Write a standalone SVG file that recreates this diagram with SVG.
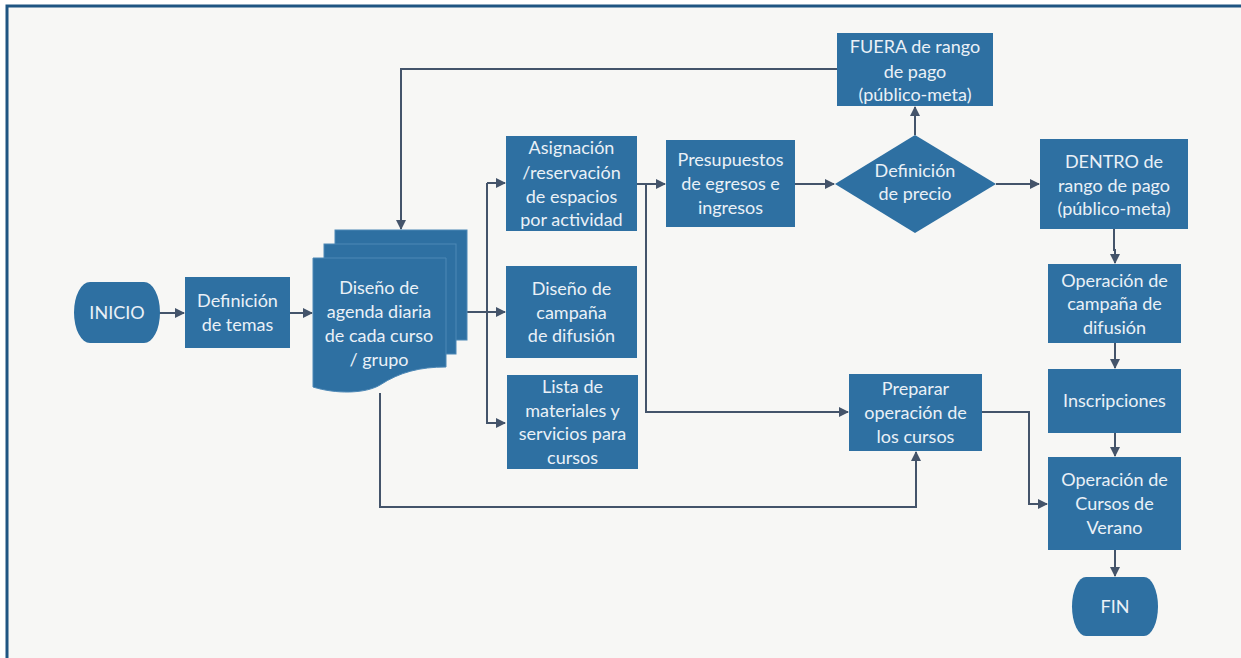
<svg xmlns="http://www.w3.org/2000/svg" width="1241" height="658" viewBox="0 0 1241 658">
  <style>
    .box { fill: #2e70a2; }
    .lbl { font-family: Lato, "Liberation Sans", sans-serif; font-size: 18px; fill: #eaf0f7; text-anchor: middle; }
    .wire { fill: none; stroke: #44546a; stroke-width: 2; }
    .arr { marker-end: url(#head); }
  </style>
  <defs>
    <marker id="head" viewBox="0 0 10 10" refX="9" refY="5" markerWidth="5" markerHeight="5" orient="auto" markerUnits="strokeWidth">
      <path d="M0,0 L10,5 L0,10 z" fill="#44546a"/>
    </marker>
  </defs>

  <!-- page -->
  <rect x="0" y="0" width="1241" height="658" fill="#ffffff"/>
  <rect x="7" y="6" width="1234" height="652" fill="#f7f7f5"/>
  <path d="M7,658 V6 H1241" fill="none" stroke="#1f5582" stroke-width="3"/>

  <!-- connectors -->
  <g id="connectors">
    <path class="wire arr" d="M159,313 H184"/>
    <path class="wire arr" d="M290,313 H312"/>
    <path class="wire" d="M466,312 H487"/>
    <path class="wire arr" d="M487,312 H505"/>
    <path class="wire arr" d="M487,183 V423 H505"/>
    <path class="wire arr" d="M487,183 H505"/>
    <path class="wire arr" d="M637,184 H665"/>
    <path class="wire arr" d="M646,184 V412 H848"/>
    <path class="wire arr" d="M795,184 H834"/>
    <path class="wire arr" d="M915,135 V107"/>
    <path class="wire arr" d="M837,69 H401 V229"/>
    <path class="wire arr" d="M996,184 H1039"/>
    <path class="wire arr" d="M1114,229 V250 H1115 V263"/>
    <path class="wire arr" d="M1115,343 V368"/>
    <path class="wire arr" d="M1115,433 V456"/>
    <path class="wire arr" d="M1115,550 V576"/>
    <path class="wire arr" d="M982,412 H1029 V504 H1047"/>
    <path class="wire arr" d="M380,393 V507 H916 V452"/>
  </g>

  <g id="inicio">
    <path class="box" d="M90,282 H144 A16,30.5 0 0 1 144,343 H90 A16,30.5 0 0 1 90,282 z"/>
    <text class="lbl" x="117" y="319">INICIO</text>
  </g>

  <g id="definicion-temas">
    <rect class="box" x="185" y="277" width="105" height="71"/>
    <text class="lbl" x="237.5" y="307">Definición</text>
    <text class="lbl" x="237.5" y="331">de temas</text>
  </g>

  <g id="diseno-agenda">
    <rect class="box" x="335" y="230" width="132" height="110" stroke="#4d88b6" stroke-width="1"/>
    <rect class="box" x="324" y="244" width="132" height="110" stroke="#4d88b6" stroke-width="1"/>
    <path class="box" d="M313,258 H446 V367 C420,367 400,372 380,385 C365,394 335,394 313,387 z" stroke="#4d88b6" stroke-width="1"/>
    <text class="lbl" x="379" y="294">Diseño de</text>
    <text class="lbl" x="379" y="318">agenda diaria</text>
    <text class="lbl" x="379" y="342">de cada curso</text>
    <text class="lbl" x="379" y="366">/ grupo</text>
  </g>

  <g id="asignacion">
    <rect class="box" x="506" y="136" width="131" height="95"/>
    <text class="lbl" x="571.5" y="154">Asignación</text>
    <text class="lbl" x="571.5" y="179">/reservación</text>
    <text class="lbl" x="571.5" y="203">de espacios</text>
    <text class="lbl" x="571.5" y="226">por actividad</text>
  </g>

  <g id="diseno-campana">
    <rect class="box" x="506" y="266" width="131" height="92"/>
    <text class="lbl" x="571.5" y="295">Diseño de</text>
    <text class="lbl" x="571.5" y="319">campaña</text>
    <text class="lbl" x="571.5" y="342">de difusión</text>
  </g>

  <g id="lista-materiales">
    <rect class="box" x="507" y="375" width="131" height="94"/>
    <text class="lbl" x="572.5" y="393">Lista de</text>
    <text class="lbl" x="572.5" y="417">materiales y</text>
    <text class="lbl" x="572.5" y="440">servicios para</text>
    <text class="lbl" x="572.5" y="464">cursos</text>
  </g>

  <g id="presupuestos">
    <rect class="box" x="666" y="140" width="129" height="87"/>
    <text class="lbl" x="730.5" y="166">Presupuestos</text>
    <text class="lbl" x="730.5" y="190">de egresos e</text>
    <text class="lbl" x="730.5" y="214">ingresos</text>
  </g>

  <g id="definicion-precio">
    <path class="box" d="M915,135 L996,184 L915,233 L835,184 z"/>
    <text class="lbl" x="915" y="177">Definición</text>
    <text class="lbl" x="915" y="200">de precio</text>
  </g>

  <g id="fuera-rango">
    <rect class="box" x="837" y="33" width="156" height="73"/>
    <text class="lbl" x="915" y="53">FUERA de rango</text>
    <text class="lbl" x="915" y="78">de pago</text>
    <text class="lbl" x="915" y="101">(público-meta)</text>
  </g>

  <g id="dentro-rango">
    <rect class="box" x="1040" y="139" width="148" height="90"/>
    <text class="lbl" x="1114" y="168">DENTRO de</text>
    <text class="lbl" x="1114" y="192">rango de pago</text>
    <text class="lbl" x="1114" y="215">(público-meta)</text>
  </g>

  <g id="operacion-campana">
    <rect class="box" x="1048" y="264" width="133" height="79"/>
    <text class="lbl" x="1114.5" y="287">Operación de</text>
    <text class="lbl" x="1114.5" y="310">campaña de</text>
    <text class="lbl" x="1114.5" y="334">difusión</text>
  </g>

  <g id="inscripciones">
    <rect class="box" x="1048" y="369" width="133" height="64"/>
    <text class="lbl" x="1114.5" y="407">Inscripciones</text>
  </g>

  <g id="preparar-operacion">
    <rect class="box" x="849" y="374" width="133" height="77"/>
    <text class="lbl" x="915.5" y="395">Preparar</text>
    <text class="lbl" x="915.5" y="419">operación de</text>
    <text class="lbl" x="915.5" y="443">los cursos</text>
  </g>

  <g id="operacion-cursos">
    <rect class="box" x="1048" y="457" width="133" height="93"/>
    <text class="lbl" x="1114.5" y="486">Operación de</text>
    <text class="lbl" x="1114.5" y="510">Cursos de</text>
    <text class="lbl" x="1114.5" y="534">Verano</text>
  </g>

  <g id="fin">
    <path class="box" d="M1086,577 H1144 A14,29.5 0 0 1 1144,636 H1086 A14,29.5 0 0 1 1086,577 z"/>
    <text class="lbl" x="1115" y="613">FIN</text>
  </g>
</svg>
